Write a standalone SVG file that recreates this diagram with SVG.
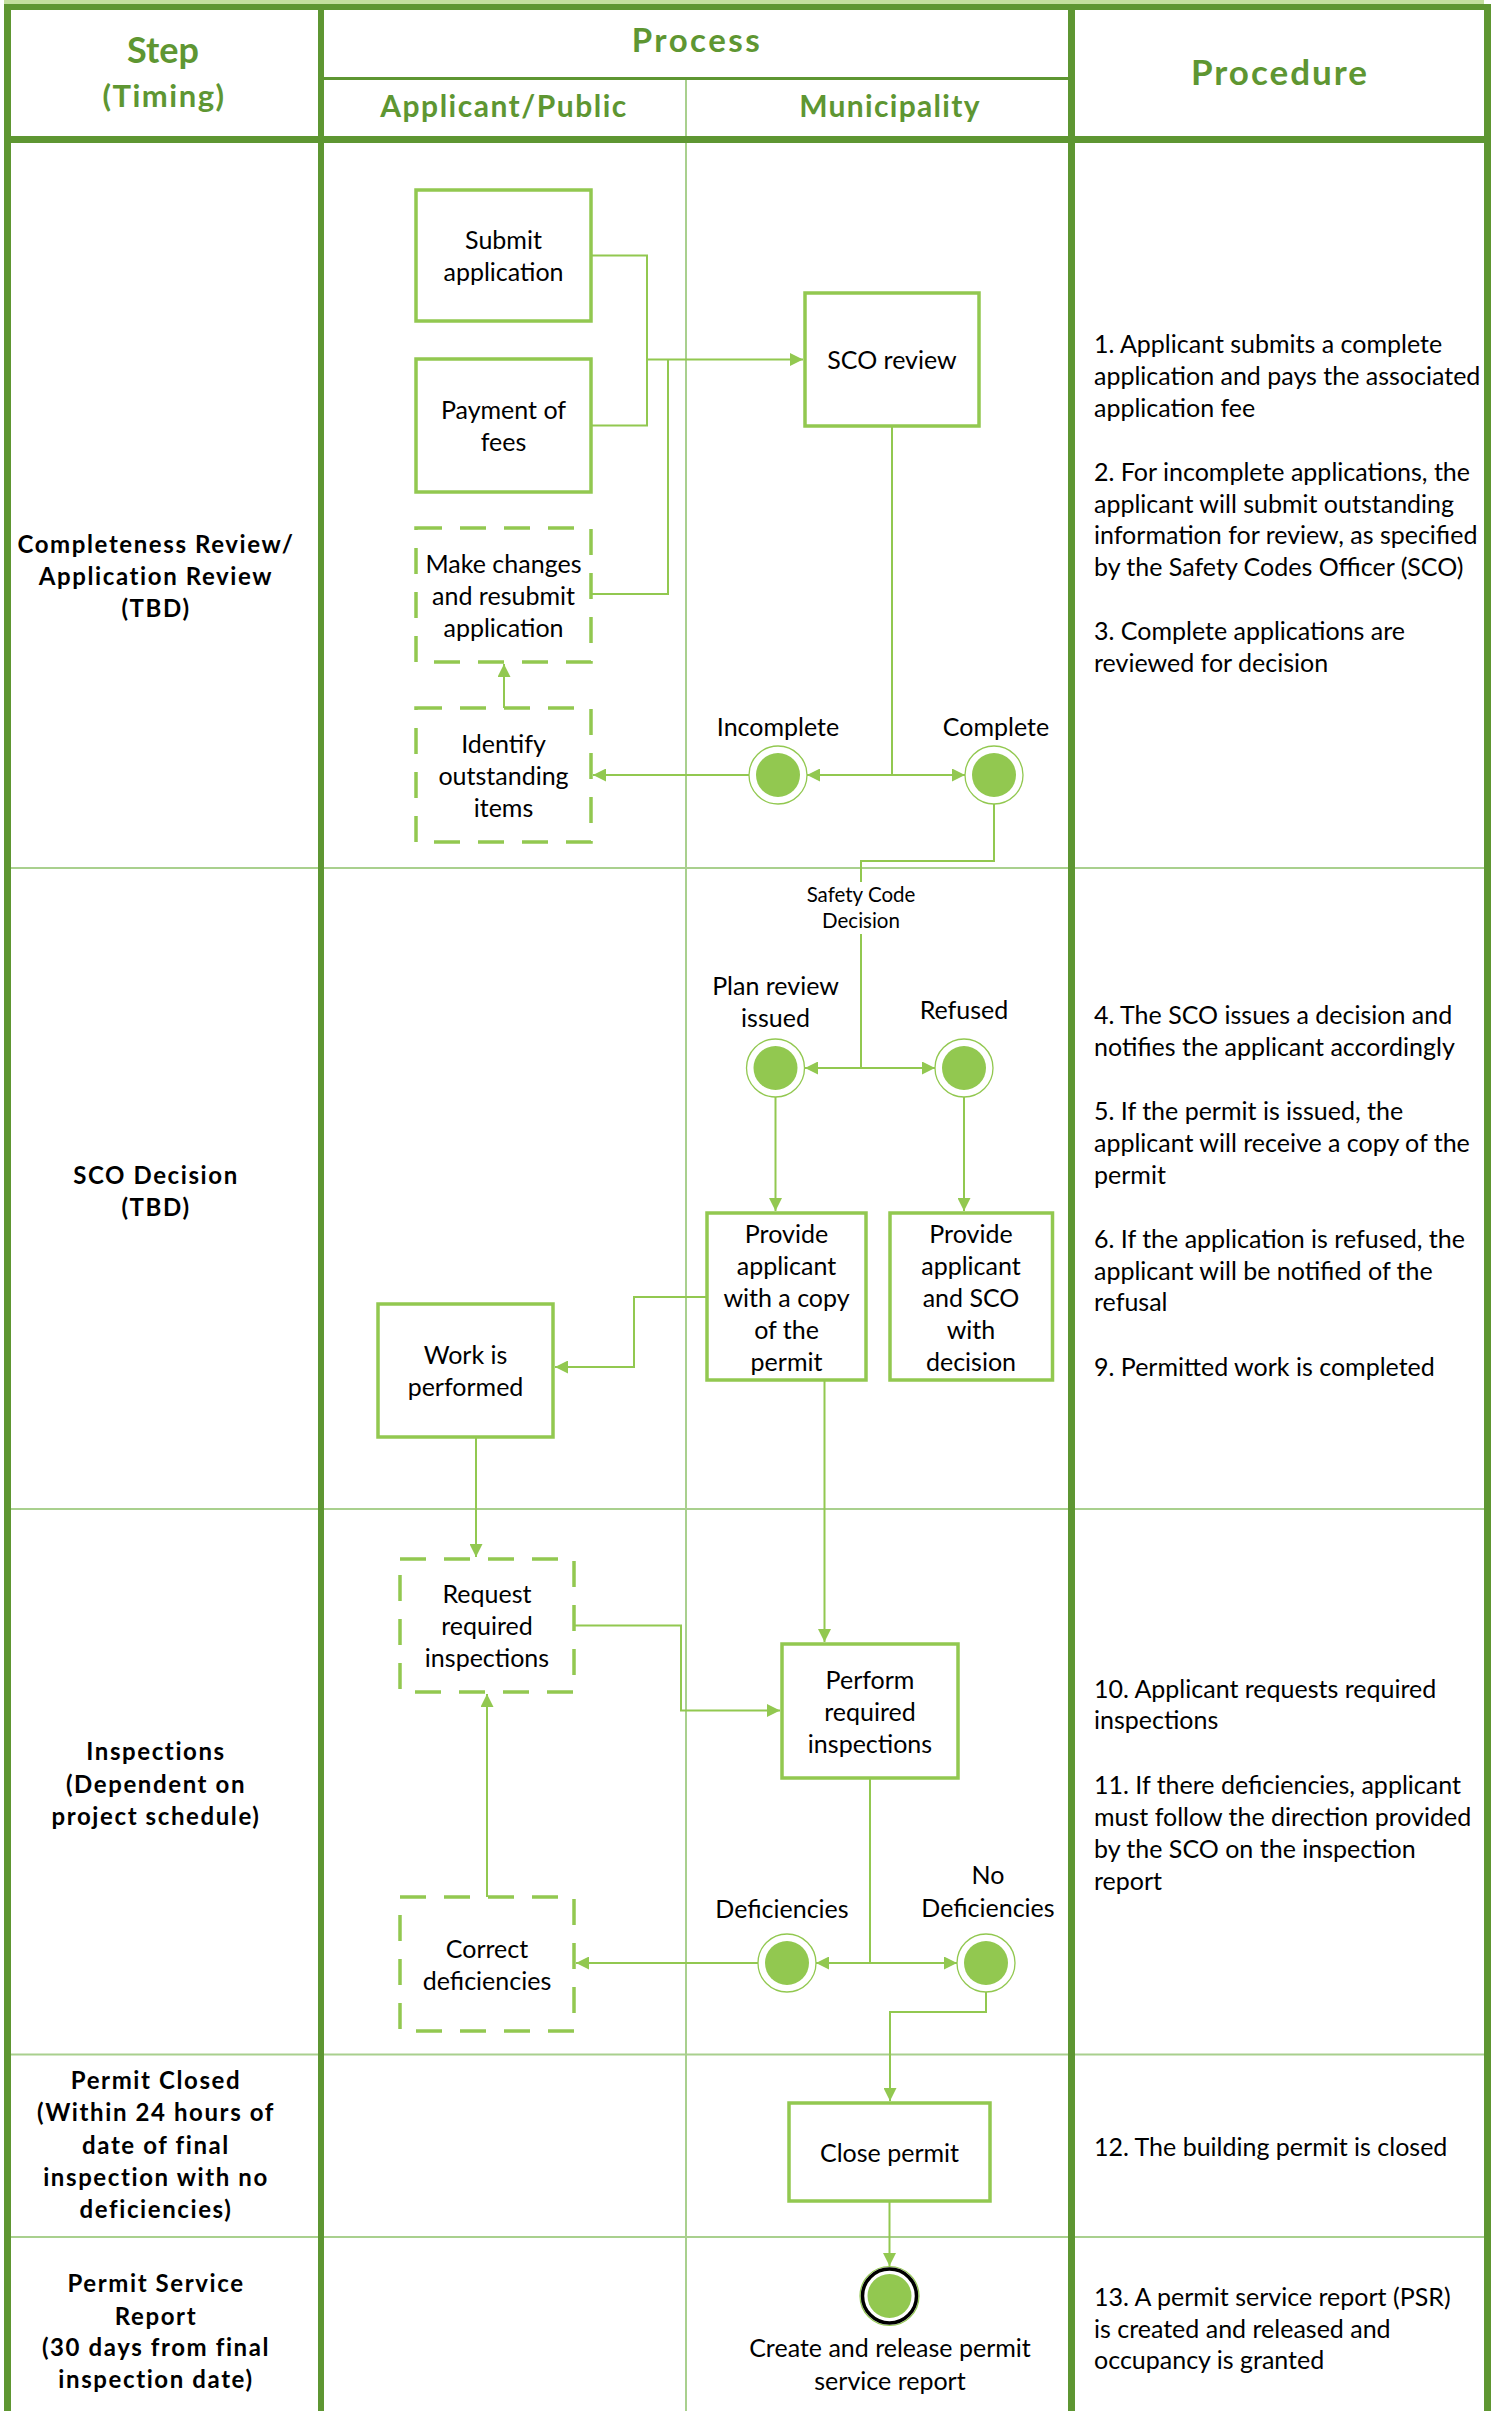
<svg xmlns="http://www.w3.org/2000/svg" width="1497" height="2411" viewBox="0 0 1497 2411">
<style>
.thin{stroke:#A9D08E;stroke-width:2;fill:none}
.dk{fill:#5E9632}
.node{fill:#fff;stroke:#92C850;stroke-width:3.5}
.dash{stroke-dasharray:26 18}
.conn{fill:none;stroke:#92C850;stroke-width:2}
.ring{fill:#fff;stroke:#92C850;stroke-width:1.3}
.dot{fill:#92C850}
.hdr{font-family:Lato,"Liberation Sans",sans-serif;font-weight:700;fill:#5E9632;text-anchor:middle}
.step{font-family:Lato,"Liberation Sans",sans-serif;font-weight:700;font-size:24px;letter-spacing:1.6px;text-anchor:middle;fill:#000}
.lbl{font-family:Lato,"Liberation Sans",sans-serif;font-size:25px;text-anchor:middle;fill:#000}
.small{font-family:Lato,"Liberation Sans",sans-serif;font-size:20.5px;text-anchor:middle;fill:#000}
.proc{font-family:Lato,"Liberation Sans",sans-serif;font-size:25px;fill:#000}
</style>
<defs>
<marker id="arr" markerUnits="userSpaceOnUse" markerWidth="13" markerHeight="13" refX="13" refY="6.5" orient="auto">
<path d="M0,0 L13,6.5 L0,13 z" fill="#92C850"/>
</marker>
</defs>
<rect width="1497" height="2411" fill="#fff"/>
<g id="frame">
<rect x="4" y="0" width="1480" height="5" fill="#C3DF9E"/>
<line class="thin" x1="4" y1="868" x2="1491" y2="868"/>
<line class="thin" x1="4" y1="1509" x2="1491" y2="1509"/>
<line class="thin" x1="4" y1="2054.5" x2="1491" y2="2054.5"/>
<line class="thin" x1="4" y1="2237" x2="1491" y2="2237"/>
<line class="thin" x1="686" y1="80" x2="686" y2="2411"/>
<rect class="dk" x="4" y="4" width="1487" height="6"/>
<rect class="dk" x="4" y="4" width="7" height="2407"/>
<rect class="dk" x="1484" y="4" width="7" height="2407"/>
<rect class="dk" x="318" y="4" width="6" height="2407"/>
<rect class="dk" x="1068" y="4" width="7" height="2407"/>
<rect class="dk" x="4" y="136" width="1487" height="7"/>
<rect class="dk" x="321" y="77" width="750" height="3"/>
</g>
<g id="header">
<text class="hdr" x="163" y="63" font-size="36">Step</text>
<text class="hdr" x="164" y="107" font-size="31" letter-spacing="1.5">(Timing)</text>
<text class="hdr" x="697" y="52" font-size="33" letter-spacing="2.5">Process</text>
<text class="hdr" x="504" y="117" font-size="30" letter-spacing="1.5">Applicant/Public</text>
<text class="hdr" x="890" y="117" font-size="30" letter-spacing="1.3">Municipality</text>
<text class="hdr" x="1280" y="85" font-size="35" letter-spacing="2">Procedure</text>
</g>
<g id="steps">
<text class="step" x="156"><tspan x="156" y="553">Completeness Review/</tspan><tspan x="156" y="585">Application Review</tspan><tspan x="156" y="617">(TBD)</tspan></text>
<text class="step" x="156"><tspan x="156" y="1184">SCO Decision</tspan><tspan x="156" y="1216">(TBD)</tspan></text>
<text class="step" x="156"><tspan x="156" y="1760">Inspections</tspan><tspan x="156" y="1793">(Dependent on</tspan><tspan x="156" y="1825">project schedule)</tspan></text>
<text class="step" x="156"><tspan x="156" y="2089">Permit Closed</tspan><tspan x="156" y="2121">(Within 24 hours of</tspan><tspan x="156" y="2154">date of final</tspan><tspan x="156" y="2186">inspection with no</tspan><tspan x="156" y="2218">deficiencies)</tspan></text>
<text class="step" x="156"><tspan x="156" y="2292">Permit Service</tspan><tspan x="156" y="2325">Report</tspan><tspan x="156" y="2356">(30 days from final</tspan><tspan x="156" y="2388">inspection date)</tspan></text>
</g>
<g id="procedure">
<text class="proc"><tspan x="1094" y="353">1. Applicant submits a complete</tspan><tspan x="1094" y="385">application and pays the associated</tspan><tspan x="1094" y="417">application fee</tspan><tspan x="1094" y="481">2. For incomplete applications, the</tspan><tspan x="1094" y="512.5">applicant will submit outstanding</tspan><tspan x="1094" y="544">information for review, as specified</tspan><tspan x="1094" y="575.5">by the Safety Codes Officer (SCO)</tspan><tspan x="1094" y="640">3. Complete applications are</tspan><tspan x="1094" y="671.5">reviewed for decision</tspan></text>
<text class="proc"><tspan x="1094" y="1024">4. The SCO issues a decision and</tspan><tspan x="1094" y="1056">notifies the applicant accordingly</tspan><tspan x="1094" y="1120">5. If the permit is issued, the</tspan><tspan x="1094" y="1152">applicant will receive a copy of the</tspan><tspan x="1094" y="1184">permit</tspan><tspan x="1094" y="1248">6. If the application is refused, the</tspan><tspan x="1094" y="1280">applicant will be notified of the</tspan><tspan x="1094" y="1311">refusal</tspan><tspan x="1094" y="1376">9. Permitted work is completed</tspan></text>
<text class="proc"><tspan x="1094" y="1698">10. Applicant requests required</tspan><tspan x="1094" y="1729">inspections</tspan><tspan x="1094" y="1794">11. If there deficiencies, applicant</tspan><tspan x="1094" y="1825.5">must follow the direction provided</tspan><tspan x="1094" y="1858">by the SCO on the inspection</tspan><tspan x="1094" y="1890">report</tspan></text>
<text class="proc"><tspan x="1094" y="2156">12. The building permit is closed</tspan></text>
<text class="proc"><tspan x="1094" y="2306">13. A permit service report (PSR)</tspan><tspan x="1094" y="2338">is created and released and</tspan><tspan x="1094" y="2369">occupancy is granted</tspan></text>
</g>
<g id="connectors">
<path class="conn" d="M591 255.5 H647 V359.5 H803" marker-end="url(#arr)"/>
<path class="conn" d="M591 425.5 H647 V359.5"/>
<path class="conn" d="M591 594 H668 V359.5"/>
<path class="conn" d="M892 426 V775 H807" marker-end="url(#arr)"/>
<path class="conn" d="M892 775 H965" marker-end="url(#arr)"/>
<path class="conn" d="M749 775 H593" marker-end="url(#arr)"/>
<path class="conn" d="M504 708 V664" marker-end="url(#arr)"/>
<path class="conn" d="M994 804 V861 H861 V882"/>
<path class="conn" d="M861 934 V1068 H805" marker-end="url(#arr)"/>
<path class="conn" d="M861 1068 H935" marker-end="url(#arr)"/>
<path class="conn" d="M775.5 1097 V1211" marker-end="url(#arr)"/>
<path class="conn" d="M964 1097 V1211" marker-end="url(#arr)"/>
<path class="conn" d="M707 1297 H634 V1367 H555" marker-end="url(#arr)"/>
<path class="conn" d="M476 1437 V1557" marker-end="url(#arr)"/>
<path class="conn" d="M824.5 1380 V1642" marker-end="url(#arr)"/>
<path class="conn" d="M574 1625.5 H681 V1710.5 H780" marker-end="url(#arr)"/>
<path class="conn" d="M870 1778 V1963 H816" marker-end="url(#arr)"/>
<path class="conn" d="M870 1963 H957" marker-end="url(#arr)"/>
<path class="conn" d="M758 1963 H576" marker-end="url(#arr)"/>
<path class="conn" d="M487 1897 V1694" marker-end="url(#arr)"/>
<path class="conn" d="M986 1992 V2012 H890 V2101" marker-end="url(#arr)"/>
<path class="conn" d="M889.5 2201 V2266" marker-end="url(#arr)"/>
<text class="small"><tspan x="861" y="902">Safety Code</tspan><tspan x="861" y="928">Decision</tspan></text>
</g>
<g id="n-submit"><rect class="node" x="416" y="190" width="175" height="131"/><text class="lbl"><tspan x="503.5" y="249">Submit</tspan><tspan x="503.5" y="281">application</tspan></text></g>
<g id="n-payment"><rect class="node" x="416" y="359" width="175" height="133"/><text class="lbl"><tspan x="503.5" y="419">Payment of</tspan><tspan x="503.5" y="451">fees</tspan></text></g>
<g id="n-resubmit"><rect class="node dash" x="416" y="528" width="175" height="134"/><text class="lbl"><tspan x="503.5" y="573">Make changes</tspan><tspan x="503.5" y="605">and resubmit</tspan><tspan x="503.5" y="637">application</tspan></text></g>
<g id="n-identify"><rect class="node dash" x="416" y="708" width="175" height="134"/><text class="lbl"><tspan x="503.5" y="752.5">Identify</tspan><tspan x="503.5" y="784.5">outstanding</tspan><tspan x="503.5" y="816.5">items</tspan></text></g>
<g id="n-sco-review"><rect class="node" x="805" y="293" width="174" height="133"/><text class="lbl" x="892" y="369">SCO review</text></g>
<g id="n-incomplete"><circle class="ring" cx="778" cy="775" r="29"/><circle class="dot" cx="778" cy="775" r="22"/><text class="lbl" x="778" y="736">Incomplete</text></g>
<g id="n-complete"><circle class="ring" cx="994" cy="775" r="29"/><circle class="dot" cx="994" cy="775" r="22"/><text class="lbl" x="996" y="736">Complete</text></g>
<g id="n-plan-issued"><circle class="ring" cx="775.5" cy="1068" r="29"/><circle class="dot" cx="775.5" cy="1068" r="22"/><text class="lbl"><tspan x="775.5" y="995">Plan review</tspan><tspan x="775.5" y="1027">issued</tspan></text></g>
<g id="n-refused"><circle class="ring" cx="964" cy="1068" r="29"/><circle class="dot" cx="964" cy="1068" r="22"/><text class="lbl" x="964" y="1019">Refused</text></g>
<g id="n-provide-copy"><rect class="node" x="707" y="1213" width="159" height="167"/><text class="lbl"><tspan x="786.5" y="1243">Provide</tspan><tspan x="786.5" y="1275">applicant</tspan><tspan x="786.5" y="1307">with a copy</tspan><tspan x="786.5" y="1339">of the</tspan><tspan x="786.5" y="1371">permit</tspan></text></g>
<g id="n-provide-sco"><rect class="node" x="890" y="1213" width="162.5" height="167"/><text class="lbl"><tspan x="971" y="1243">Provide</tspan><tspan x="971" y="1275">applicant</tspan><tspan x="971" y="1307">and SCO</tspan><tspan x="971" y="1339">with</tspan><tspan x="971" y="1371">decision</tspan></text></g>
<g id="n-work"><rect class="node" x="378" y="1304" width="175" height="133"/><text class="lbl"><tspan x="465.5" y="1364">Work is</tspan><tspan x="465.5" y="1396">performed</tspan></text></g>
<g id="n-request"><rect class="node dash" x="400" y="1559" width="174" height="133"/><text class="lbl"><tspan x="487" y="1603">Request</tspan><tspan x="487" y="1635">required</tspan><tspan x="487" y="1667">inspections</tspan></text></g>
<g id="n-perform"><rect class="node" x="782" y="1644" width="176" height="134"/><text class="lbl"><tspan x="870" y="1688.5">Perform</tspan><tspan x="870" y="1720.5">required</tspan><tspan x="870" y="1752.5">inspections</tspan></text></g>
<g id="n-deficiencies"><circle class="ring" cx="787" cy="1963" r="29"/><circle class="dot" cx="787" cy="1963" r="22"/><text class="lbl" x="782" y="1918">Deficiencies</text></g>
<g id="n-no-deficiencies"><circle class="ring" cx="986" cy="1963" r="29"/><circle class="dot" cx="986" cy="1963" r="22"/><text class="lbl"><tspan x="988" y="1884">No</tspan><tspan x="988" y="1917">Deficiencies</tspan></text></g>
<g id="n-correct"><rect class="node dash" x="400" y="1897" width="174" height="134"/><text class="lbl"><tspan x="487" y="1957.5">Correct</tspan><tspan x="487" y="1989.5">deficiencies</tspan></text></g>
<g id="n-close"><rect class="node" x="789" y="2103" width="201" height="98"/><text class="lbl" x="889.5" y="2161.5">Close permit</text></g>
<g id="n-final"><circle cx="889.5" cy="2296" r="29.5" fill="#fff" stroke="#92C850" stroke-width="1.2"/><circle cx="889.5" cy="2296" r="27" fill="none" stroke="#000" stroke-width="3.5"/><circle class="dot" cx="889.5" cy="2296" r="22"/><text class="lbl"><tspan x="890" y="2357">Create and release permit</tspan><tspan x="890" y="2390">service report</tspan></text></g>
</svg>
